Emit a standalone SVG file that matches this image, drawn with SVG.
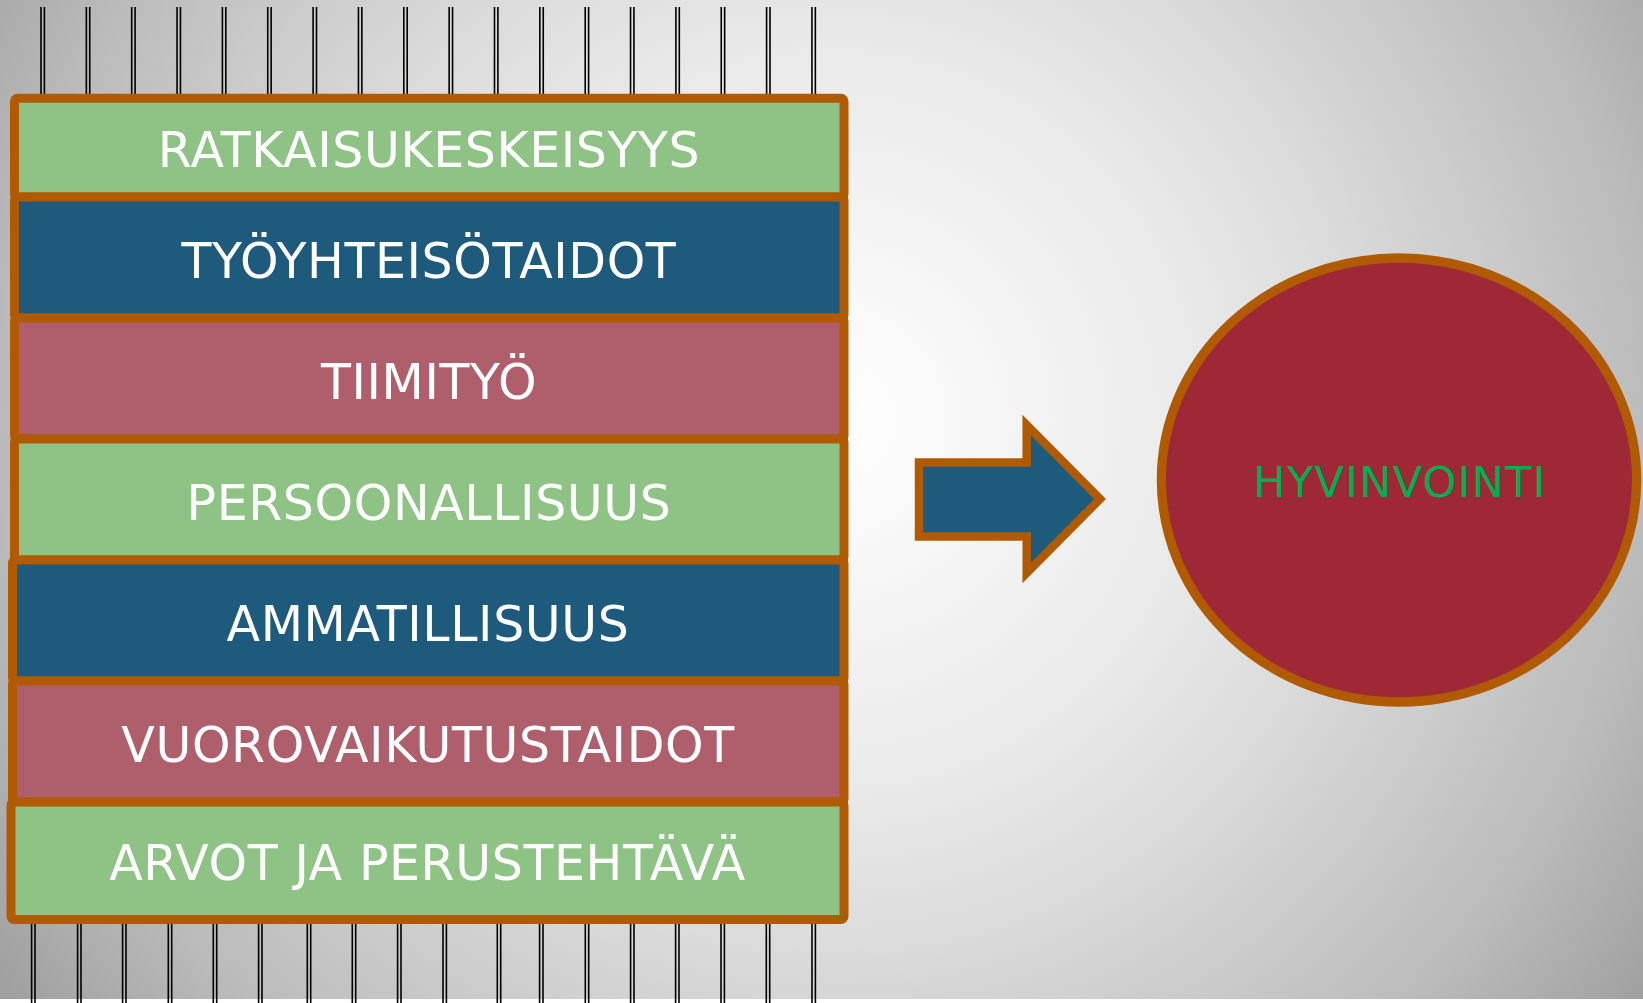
<svg xmlns="http://www.w3.org/2000/svg" width="1643" height="1003" viewBox="0 0 1643 1003">
  <defs>
    <radialGradient id="bg" gradientUnits="userSpaceOnUse" cx="830" cy="420" r="1000">
      <stop offset="0" stop-color="#ffffff"/>
      <stop offset="0.35" stop-color="#ebebeb"/>
      <stop offset="0.5" stop-color="#dedede"/>
      <stop offset="0.82" stop-color="#bbbbbb"/>
      <stop offset="1" stop-color="#a0a0a0"/>
    </radialGradient>
    <style>
      .band { stroke: #b05b03; stroke-width: 9; }
      .green { fill: #8fc285; }
      .blue { fill: #1e5a7b; }
      .pink { fill: #ae5f6b; }
      .lbl { font-family: "DejaVu Sans", Verdana, sans-serif; font-size: 49px; fill: #ffffff; text-anchor: middle; letter-spacing: 0.6px; }
      .tick { stroke: #000000; stroke-width: 1.6; fill: none; }
    </style>
  </defs>
  <rect x="0" y="0" width="1643" height="1003" fill="#ffffff"/>
  <rect x="0" y="0" width="1643" height="999" fill="url(#bg)"/>

  <g id="ticks">
    <path class="tick" d="M41,7V98M44.4,7V98 M86.35,7V98M89.75,7V98 M131.7,7V98M135.1,7V98 M177.05,7V98M180.45,7V98 M222.4,7V98M225.8,7V98 M267.75,7V98M271.15,7V98 M313.1,7V98M316.5,7V98 M358.45,7V98M361.85,7V98 M403.8,7V98M407.2,7V98 M449.15,7V98M452.55,7V98 M494.5,7V98M497.9,7V98 M539.85,7V98M543.25,7V98 M585.2,7V98M588.6,7V98 M630.55,7V98M633.95,7V98 M675.9,7V98M679.3,7V98 M721.25,7V98M724.65,7V98 M766.6,7V98M770,7V98 M811.95,7V98M815.35,7V98"/>
    <path class="tick" d="M31.6,920V1003M35,920V1003 M77.6,920V1003M81,920V1003 M122.6,920V1003M126,920V1003 M168.3,920V1003M171.7,920V1003 M213.3,920V1003M216.7,920V1003 M258.6,920V1003M262,920V1003 M307.3,920V1003M310.7,920V1003 M352.3,920V1003M355.7,920V1003 M397.6,920V1003M401,920V1003 M443,920V1003M446.4,920V1003 M497.3,920V1003M500.7,920V1003 M539.6,920V1003M543,920V1003 M585.3,920V1003M588.7,920V1003 M630.6,920V1003M634,920V1003 M675.6,920V1003M679,920V1003 M721,920V1003M724.4,920V1003 M766.3,920V1003M769.7,920V1003 M812,920V1003M815.4,920V1003"/>
  </g>

  <g id="band1">
    <rect class="band green" x="14.5" y="98.3" width="829.5" height="98.7" rx="3"/>
    <text class="lbl" x="429" y="166.5">RATKAISUKESKEISYYS</text>
  </g>
  <g id="band2">
    <rect class="band blue" x="14.5" y="197" width="829.5" height="121" rx="3"/>
    <text class="lbl" x="429" y="277.5">TYÖYHTEISÖTAIDOT</text>
  </g>
  <g id="band3">
    <rect class="band pink" x="14.5" y="318" width="829.5" height="121" rx="3"/>
    <text class="lbl" x="429" y="398.5">TIIMITYÖ</text>
  </g>
  <g id="band4">
    <rect class="band green" x="14.5" y="439" width="829.5" height="121" rx="3"/>
    <text class="lbl" x="429" y="519.5">PERSOONALLISUUS</text>
  </g>
  <g id="band5">
    <rect class="band blue" x="12.5" y="560" width="831.5" height="121" rx="3"/>
    <text class="lbl" x="428" y="640.5">AMMATILLISUUS</text>
  </g>
  <g id="band6">
    <rect class="band pink" x="12.5" y="681" width="831.5" height="121" rx="3"/>
    <text class="lbl" x="428" y="761.5">VUOROVAIKUTUSTAIDOT</text>
  </g>
  <g id="band7">
    <rect class="band green" x="11" y="802" width="833" height="117.5" rx="3"/>
    <text class="lbl" x="427.5" y="879.5">ARVOT JA PERUSTEHTÄVÄ</text>
  </g>

  <g id="arrow">
    <path d="M919,462.5 H1026.7 V425 L1100,499 L1026.7,573 V536.5 H919 Z" fill="#1e5a7b" stroke="#b05b03" stroke-width="8.5" stroke-miterlimit="10"/>
  </g>

  <g id="hyvinvointi">
    <ellipse cx="1399" cy="480" rx="237.6" ry="222" fill="#9f2837" stroke="#b05b03" stroke-width="9.3"/>
    <text x="1400" y="496.7" font-family="'DejaVu Sans', Verdana, sans-serif" font-size="43" fill="#00b050" text-anchor="middle" letter-spacing="1.3">HYVINVOINTI</text>
  </g>
</svg>
